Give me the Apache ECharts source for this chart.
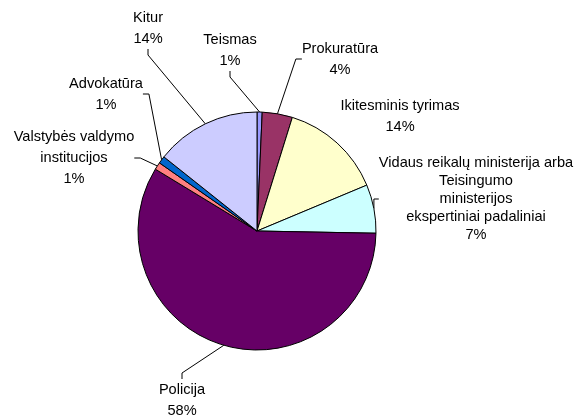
<!DOCTYPE html>
<html>
<head>
<meta charset="utf-8">
<script src="https://cdn.jsdelivr.net/npm/echarts@6/dist/echarts.min.js"></script>
<style>
  html, body { margin: 0; padding: 0; background: #fff; }
  #main { width: 574px; height: 417px; }
</style>
</head>
<body>
<div id="main"></div>
<script>
// slices, clockwise from 12 o'clock
var categories = [
    'Teismas',
    'Prokuratūra',
    'Ikitesminis tyrimas',
    'Vidaus reikalų ministerija arba\nTeisingumo\nministerijos\nekspertiniai padaliniai',
    'Policija',
    'Valstybės valdymo\ninstitucijos',
    'Advokatūra',
    'Kitur'
];
var values = [0.7, 4.1, 13.9, 6.6, 58.4, 1.0, 1.0, 14.3];
var colors = ['#9999FF', '#993366', '#FFFFCC', '#CCFFFF', '#660066', '#FF8080', '#0066CC', '#CCCCFF'];

// where each label sits (centre of text block)
var labelPos = [
    [230, 50], [340, 59], [400, 116], [476, 199],
    [182, 400], [74, 158], [106, 94], [148, 28]
];

var chart = echarts.init(document.getElementById('main'));

chart.setOption({
    animation: false,
    series: [
        {
            type: 'pie',
            center: [257, 231],
            radius: [0, 119],
            startAngle: 90,
            clockwise: true,
            avoidLabelOverlap: false,
            itemStyle: {
                borderColor: '#000',
                borderWidth: 1
            },
            emphasis: { disabled: true },
            label: {
                show: true,
                position: 'outside',
                color: '#000',
                fontFamily: 'Liberation Sans, Arial, sans-serif',
                fontSize: 14.6,
                lineHeight: 21,
                align: 'center',
                formatter: function (p) {
                    return p.name + '\n' + Math.round(p.percent) + '%';
                }
            },
            labelLine: {
                show: true,
                length: 10,
                length2: 6,
                smooth: false,
                lineStyle: { color: '#000', width: 1 }
            },
            labelLayout: function (p) {
                var pos = labelPos[p.dataIndex];
                return {
                    x: pos[0],
                    y: pos[1],
                    align: 'center',
                    verticalAlign: 'middle'
                };
            },
            data: categories.map(function (name, i) {
                var item = {
                    name: name,
                    value: values[i],
                    itemStyle: { color: colors[i] }
                };
                if (i === 2) {
                    item.labelLine = { show: false };
                }
                if (i === 3) {
                    item.label = { lineHeight: 18 };
                }
                return item;
            })
        }
    ]
});
</script>
</body>
</html>
